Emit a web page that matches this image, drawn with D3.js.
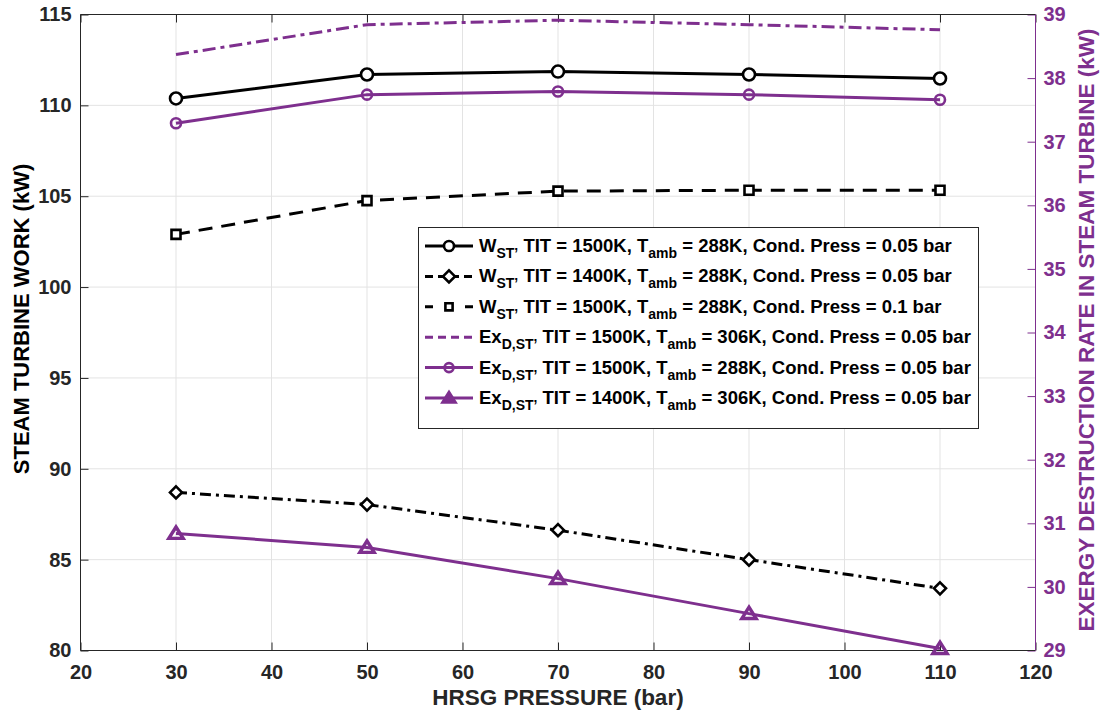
<!DOCTYPE html>
<html>
<head>
<meta charset="utf-8">
<script src="https://cdn.jsdelivr.net/npm/d3@7"></script>
<style>
  body { margin: 0; background: #fff; }
  svg { font-family: "Liberation Sans", Arial, sans-serif; font-weight: bold; }
</style>
</head>
<body>
<svg id="chart"></svg>
<script>
// HRSG pressure (bar)
let pressure = [30, 50, 70, 90, 110];

// steam turbine work, left axis (kW)
let wst1500 = [110.38, 111.70, 111.86, 111.70, 111.48];
let wst1400 = [88.70, 88.03, 86.62, 85.00, 83.42];
let wst1500cond01 = [102.90, 104.76, 105.28, 105.33, 105.33];

// exergy destruction rate, right axis (kW)
let ex1500t306 = [38.37, 38.84, 38.91, 38.84, 38.76];
let ex1500t288 = [37.29, 37.74, 37.79, 37.74, 37.66];
let ex1400t306 = [30.84, 30.62, 30.13, 29.58, 29.03];

let xTicks = [20, 30, 40, 50, 60, 70, 80, 90, 100, 110, 120];
let yLeftTicks = [80, 85, 90, 95, 100, 105, 110, 115];
let yRightTicks = [29, 30, 31, 32, 33, 34, 35, 36, 37, 38, 39];

let width = 1105;
let height = 715;
let plotLeft = 80.5, plotRight = 1035.5, plotTop = 14.5, plotBottom = 650.5;

let purple = '#7E2F8E';
let axisGray = '#262626';

let svg = d3.select('#chart')
    .attr('width', width)
    .attr('height', height);

let xScale = d3.scaleLinear().domain([20, 120]).range([plotLeft, plotRight]);
let yLeft = d3.scaleLinear().domain([80, 115]).range([plotBottom, plotTop]);
let yRight = d3.scaleLinear().domain([29, 39]).range([plotBottom, plotTop]);

// grid
svg.append('g')
    .selectAll('line')
    .data(xTicks)
    .enter()
    .append('line')
    .attr('x1', d => xScale(d)).attr('x2', d => xScale(d))
    .attr('y1', plotTop).attr('y2', plotBottom)
    .attr('stroke', '#e3e3e3').attr('stroke-width', 1);

svg.append('g')
    .selectAll('line')
    .data(yLeftTicks)
    .enter()
    .append('line')
    .attr('x1', plotLeft).attr('x2', plotRight)
    .attr('y1', d => yLeft(d)).attr('y2', d => yLeft(d))
    .attr('stroke', '#e3e3e3').attr('stroke-width', 1);

// axes
let styleAxis = (g, color) => {
    g.select('.domain').remove();
    g.selectAll('.tick line').attr('stroke', color);
    g.selectAll('.tick text')
        .attr('fill', color)
        .attr('font-size', '20px')
        .attr('font-weight', 'bold');
}

svg.append('g')
    .attr('transform', 'translate(0,' + plotBottom + ')')
    .call(d3.axisBottom(xScale).tickValues(xTicks).tickSize(-8).tickPadding(14).tickFormat(d3.format('d')))
    .call(g => styleAxis(g, axisGray));

svg.append('g')
    .attr('transform', 'translate(0,' + plotTop + ')')
    .call(d3.axisTop(xScale).tickValues(xTicks).tickSize(-8).tickFormat(''))
    .call(g => styleAxis(g, axisGray));

svg.append('g')
    .attr('transform', 'translate(' + plotLeft + ',0)')
    .call(d3.axisLeft(yLeft).tickValues(yLeftTicks).tickSize(-8).tickPadding(9))
    .call(g => styleAxis(g, axisGray));

svg.append('g')
    .attr('transform', 'translate(' + plotRight + ',0)')
    .call(d3.axisRight(yRight).tickValues(yRightTicks).tickSize(-8).tickPadding(8))
    .call(g => styleAxis(g, purple));

// frame
svg.append('line').attr('x1', plotLeft).attr('x2', plotRight).attr('y1', plotBottom).attr('y2', plotBottom).attr('stroke', axisGray);
svg.append('line').attr('x1', plotLeft).attr('x2', plotRight).attr('y1', plotTop).attr('y2', plotTop).attr('stroke', axisGray);
svg.append('line').attr('x1', plotLeft).attr('x2', plotLeft).attr('y1', plotTop).attr('y2', plotBottom).attr('stroke', axisGray);
svg.append('line').attr('x1', plotRight).attr('x2', plotRight).attr('y1', plotTop).attr('y2', plotBottom).attr('stroke', purple);

// axis titles
svg.append('text')
    .attr('x', (plotLeft + plotRight) / 2).attr('y', 705)
    .attr('text-anchor', 'middle')
    .attr('font-size', '22.5px')
    .attr('fill', axisGray)
    .text('HRSG PRESSURE (bar)');

svg.append('text')
    .attr('transform', 'translate(29,319) rotate(-90)')
    .attr('text-anchor', 'middle')
    .attr('font-size', '22px')
    .attr('fill', '#000')
    .text('STEAM TURBINE WORK (kW)');

svg.append('text')
    .attr('transform', 'translate(1094,330) rotate(-90)')
    .attr('text-anchor', 'middle')
    .attr('font-size', '22.5px')
    .attr('fill', purple)
    .text('EXERGY DESTRUCTION RATE IN STEAM TURBINE (kW)');

// series
let series = [
    { values: wst1500, y: yLeft, color: '#000', dash: null, marker: 'circle', r: 6, fill: '#fff' },
    { values: wst1400, y: yLeft, color: '#000', dash: '11,5,3,5', marker: 'diamond', r: 6, fill: '#fff' },
    { values: wst1500cond01, y: yLeft, color: '#000', dash: '14,9', marker: 'square', r: 5, fill: '#fff' },
    { values: ex1500t306, y: yRight, color: purple, dash: '13,5,4,5', marker: null },
    { values: ex1500t288, y: yRight, color: purple, dash: null, marker: 'circle', r: 5, fill: 'none' },
    { values: ex1400t306, y: yRight, color: purple, dash: null, marker: 'triangle', r: 6.5, fill: 'none', sw: 3.4 }
];

let markerPath = (type, r) => {
    if (type === 'diamond') return 'M0,' + (-r) + 'L' + r + ',0L0,' + r + 'L' + (-r) + ',0Z';
    if (type === 'square') return 'M' + (-r * 0.9) + ',' + (-r * 0.9) + 'h' + (1.8 * r) + 'v' + (1.8 * r) + 'h' + (-1.8 * r) + 'Z';
    if (type === 'triangle') return 'M0,' + (-r) + 'L' + (r * 1.1) + ',' + (r * 0.75) + 'L' + (-r * 1.1) + ',' + (r * 0.75) + 'Z';
    return null;
}

let drawMarker = (g, type, r, color, fill, x, y, sw) => {
    if (type === 'circle') {
        g.append('circle').attr('cx', x).attr('cy', y).attr('r', r)
            .attr('fill', fill).attr('stroke', color).attr('stroke-width', sw || 2.6);
    } else if (type) {
        g.append('path').attr('d', markerPath(type, r))
            .attr('transform', 'translate(' + x + ',' + y + ')')
            .attr('fill', fill).attr('stroke', color).attr('stroke-width', sw || 2.6)
            .attr('stroke-linejoin', 'miter');
    }
}

let plot = svg.append('g');
series.forEach(s => {
    let line = d3.line()
        .x((d, i) => xScale(pressure[i]))
        .y(d => s.y(d));
    plot.append('path')
        .datum(s.values)
        .attr('d', line)
        .attr('fill', 'none')
        .attr('stroke', s.color)
        .attr('stroke-width', 3)
        .attr('stroke-dasharray', s.dash);
    s.values.forEach((v, i) => {
        drawMarker(plot, s.marker, s.r, s.color, s.fill, xScale(pressure[i]), s.y(v), s.sw);
    });
});

// legend
let legendItems = [
    { sym: 'W', sub: 'ST\u2019', tit: '1500K', tamb: '288K', cond: '0.05', color: '#000', dash: null, marker: 'circle', r: 5, fill: '#fff' },
    { sym: 'W', sub: 'ST\u2019', tit: '1400K', tamb: '288K', cond: '0.05', color: '#000', dash: '8,5', marker: 'diamond', r: 6, fill: '#fff' },
    { sym: 'W', sub: 'ST\u2019', tit: '1500K', tamb: '288K', cond: '0.1', color: '#000', dash: '8,12', marker: 'square', r: 4, fill: '#fff' },
    { sym: 'Ex', sub: 'D,ST\u2019', tit: '1500K', tamb: '306K', cond: '0.05', color: purple, dash: '8,5', marker: null },
    { sym: 'Ex', sub: 'D,ST\u2019', tit: '1500K', tamb: '288K', cond: '0.05', color: purple, dash: null, marker: 'circle', r: 4.5, fill: 'none' },
    { sym: 'Ex', sub: 'D,ST\u2019', tit: '1400K', tamb: '306K', cond: '0.05', color: purple, dash: null, marker: 'triangle', r: 6, fill: purple }
];

let legend = svg.append('g');
legend.append('rect')
    .attr('x', 418.5).attr('y', 227.5)
    .attr('width', 560).attr('height', 201)
    .attr('fill', '#fff').attr('stroke', axisGray).attr('stroke-width', 1);

legendItems.forEach((d, i) => {
    let cy = 246 + i * 30.4;
    legend.append('line')
        .attr('x1', 425).attr('x2', 473)
        .attr('y1', cy).attr('y2', cy)
        .attr('stroke', d.color).attr('stroke-width', 3)
        .attr('stroke-dasharray', d.dash);
    drawMarker(legend, d.marker, d.r, d.color, d.fill, 449, cy);

    let t = legend.append('text')
        .attr('x', 479).attr('y', cy + 6)
        .attr('font-size', '18.5px')
        .attr('fill', '#000');
    t.append('tspan').text(d.sym);
    t.append('tspan').attr('font-size', '14px').attr('dy', 6).text(d.sub);
    t.append('tspan').attr('dy', -6).text(' TIT = ' + d.tit + ', T');
    t.append('tspan').attr('font-size', '14px').attr('dy', 6).text('amb');
    t.append('tspan').attr('dy', -6).text(' = ' + d.tamb + ', Cond. Press = ' + d.cond + ' bar');
});
</script>
</body>
</html>
